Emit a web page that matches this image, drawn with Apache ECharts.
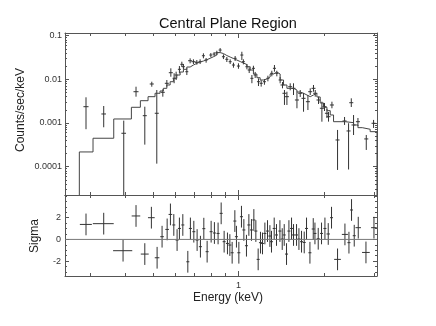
<!DOCTYPE html>
<html>
<head>
<meta charset="utf-8">
<script src="https://cdn.jsdelivr.net/npm/echarts@6/dist/echarts.min.js"></script>
<style>
html, body { margin: 0; padding: 0; background: #fff; }
#chart { width: 436px; height: 326px; }
</style>
</head>
<body>
<div id="chart"></div>
<script>
// spectrum points: energy (keV), half bin width (keV), rate (counts/sec/keV), errors down / up
var energy = [0.291, 0.3358, 0.3949, 0.4362, 0.4683, 0.4955, 0.516, 0.5418, 0.5597, 0.5781,
    0.5937, 0.6034, 0.6197, 0.6319, 0.6401, 0.658, 0.6758, 0.6941, 0.7134, 0.7327,
    0.7525, 0.7691, 0.7991, 0.8207, 0.8388, 0.8616, 0.8849, 0.9095, 0.9344, 0.9596,
    0.9728, 0.9992, 1.027, 1.04, 1.07, 1.09, 1.114, 1.128, 1.144, 1.175,
    1.201, 1.233, 1.268, 1.309, 1.337, 1.363, 1.4, 1.427, 1.45, 1.479,
    1.519, 1.56, 1.604, 1.647, 1.692, 1.753, 1.786, 1.834, 1.86, 1.91,
    1.963, 2.005, 2.045, 2.071, 2.129, 2.228, 2.358, 2.436, 2.49, 2.536,
    2.628, 2.811, 2.982];
var energyHw = [0.006, 0.0063, 0.0074, 0.0089, 0.0076, 0.0081, 0.0084, 0.0088, 0.0091, 0.0094,
    0.0072, 0.0074, 0.0076, 0.0077, 0.0078, 0.008, 0.011, 0.0113, 0.0116, 0.0089,
    0.0092, 0.0094, 0.0097, 0.01, 0.0102, 0.0105, 0.0108, 0.0111, 0.0114, 0.0117,
    0.0119, 0.0122, 0.0125, 0.0127, 0.013, 0.0133, 0.0136, 0.0138, 0.014, 0.0143,
    0.0147, 0.015, 0.0155, 0.016, 0.0163, 0.0166, 0.0171, 0.0233, 0.0236, 0.0241,
    0.0248, 0.0254, 0.0261, 0.0268, 0.0276, 0.0286, 0.0291, 0.0299, 0.0303, 0.0311,
    0.032, 0.0327, 0.0333, 0.0338, 0.0347, 0.0363, 0.0384, 0.0397, 0.0406, 0.0413,
    0.0428, 0.0458, 0.0486];
var rate = [2.36e-3, 1.607e-3, 5.81e-4, 5.2e-3, 1.469e-3, 7.81e-3, 1.667e-3, 5.04e-3, 8.1e-3, 1.416e-2,
    1.054e-2, 1.254e-2, 1.694e-2, 2.203e-2, 1.942e-2, 1.493e-2, 2.665e-2, 2.529e-2, 2.449e-2, 2.529e-2,
    3.467e-2, 2.764e-2, 3.597e-2, 3.793e-2, 4.064e-2, 4.68e-2, 3.289e-2, 2.871e-2, 2.529e-2, 2.124e-2,
    3.027e-2, 2.014e-2, 3.597e-2, 2.529e-2, 1.942e-2, 1.632e-2, 1.054e-2, 1.786e-2, 1.254e-2, 8.81e-3,
    8.1e-3, 8.81e-3, 1.054e-2, 1.371e-2, 1.786e-2, 1.371e-2, 9.64e-3, 7.41e-3, 4.79e-3, 4.0e-3,
    6.77e-3, 6.22e-3, 3.36e-3, 4.79e-3, 3.67e-3, 3.07e-3, 5.2e-3, 6.22e-3, 4.79e-3, 3.36e-3,
    2.17e-3, 2.36e-3, 1.667e-3, 1.393e-3, 2.58e-3, 4.08e-4, 1.111e-3, 6.56e-4, 2.91e-3, 9.0e-4,
    1.07e-3, 4.31e-4, 9.84e-4];
var rateErrUp = [1.51e-3, 8.4e-4, 5.5e-4, 1.57e-3, 8.9e-4, 1.0e-3, 4.02e-3, 8.6e-4, 1.54e-3, 3.7e-3,
    3.2e-3, 2.4e-3, 3.2e-3, 3.3e-3, 3.0e-3, 2.9e-3, 3.6e-3, 3.4e-3, 3.2e-3, 3.4e-3,
    4.7e-3, 3.1e-3, 4.0e-3, 4.2e-3, 4.5e-3, 5.2e-3, 4.4e-3, 3.7e-3, 3.4e-3, 2.8e-3,
    3.9e-3, 3.1e-3, 6.8e-3, 3.4e-3, 3.0e-3, 2.5e-3, 2.0e-3, 2.6e-3, 2.2e-3, 1.7e-3,
    1.4e-3, 1.35e-3, 1.55e-3, 2.0e-3, 3.4e-3, 2.0e-3, 1.65e-3, 1.26e-3, 9.0e-4, 1.2e-3,
    1.33e-3, 1.88e-3, 1.84e-3, 9.0e-4, 1.19e-3, 1.3e-3, 1.02e-3, 1.19e-3, 9.0e-4, 6.4e-4,
    9.0e-4, 5.1e-4, 4.2e-4, 3.9e-4, 4.9e-4, 2.84e-4, 2.6e-4, 3.3e-4, 7.6e-4, 6.2e-4,
    2.3e-4, 1.0e-4, 1.9e-4];
var rateErrDn = [1.64e-3, 8.1e-4, 5.7e-4, 1.2e-3, 1.15e-3, 1.04e-3, 1.55e-3, 1.04e-3, 1.33e-3, 2.7e-3,
    2.4e-3, 2.9e-3, 3.2e-3, 2.9e-3, 2.5e-3, 2.4e-3, 3.4e-3, 2.9e-3, 2.9e-3, 2.9e-3,
    4.4e-3, 3.6e-3, 4.1e-3, 4.3e-3, 4.7e-3, 5.3e-3, 3.8e-3, 3.8e-3, 2.9e-3, 2.8e-3,
    4.0e-3, 2.7e-3, 8.3e-3, 3.3e-3, 2.5e-3, 2.4e-3, 2.4e-3, 2.6e-3, 1.8e-3, 1.8e-3,
    1.3e-3, 1.3e-3, 1.54e-3, 2.0e-3, 2.9e-3, 2.0e-3, 1.54e-3, 1.19e-3, 2.2e-3, 1.42e-3,
    1.17e-3, 1.85e-3, 1.19e-3, 8.5e-4, 1.86e-3, 1.09e-3, 8.3e-4, 1.02e-3, 7.9e-4, 6.4e-4,
    1.1e-3, 4.8e-4, 3.7e-4, 3.2e-4, 4.1e-4, 3.24e-4, 2.1e-4, 5.7e-4, 5.9e-4, 3.7e-4,
    2.2e-4, 1.9e-4, 2.15e-4];

// folded model: value held from each bin low edge, last edge closes the final bin
var modelEdge = [0.2757, 0.308, 0.3642, 0.4201, 0.4518, 0.4808, 0.5088, 0.5298, 0.5441, 0.5597,
    0.5748, 0.5904, 0.6067, 0.6232, 0.6401, 0.658, 0.6758, 0.6941, 0.7134, 0.7327,
    0.7525, 0.7735, 0.7946, 0.8161, 0.8388, 0.8616, 0.8849, 0.9095, 0.9344, 0.9596,
    0.9863, 1.013, 1.04, 1.07, 1.099, 1.128, 1.16, 1.191, 1.223, 1.257,
    1.291, 1.327, 1.363, 1.4, 1.439, 1.479, 1.519, 1.56, 1.604, 1.647,
    1.692, 1.739, 1.786, 1.834, 1.885, 1.936, 1.989, 2.045, 2.1, 2.157,
    2.371, 2.536, 2.628, 2.721, 2.901, 3.066];
var modelRate = [2.17e-4, 4.47e-4, 1.235e-3, 2.287e-3, 3.237e-3, 4.0e-3, 4.79e-3, 5.4e-3, 6.22e-3, 7.41e-3,
    8.81e-3, 1.054e-2, 1.254e-2, 1.469e-2, 1.694e-2, 1.912e-2, 2.124e-2, 2.323e-2, 2.489e-2, 2.623e-2,
    2.81e-2, 3.027e-2, 3.289e-2, 3.597e-2, 4.09e-2, 3.893e-2, 3.505e-2, 3.238e-2, 2.992e-2, 2.764e-2,
    2.554e-2, 2.36e-2, 2.182e-2, 1.942e-2, 1.632e-2, 1.322e-2, 1.088e-2, 9.64e-3, 1.016e-2, 1.129e-2,
    1.322e-2, 1.469e-2, 1.322e-2, 9.64e-3, 7.41e-3, 6.22e-3, 6.22e-3, 5.69e-3, 5.12e-3, 4.79e-3,
    4.37e-3, 4.0e-3, 4.37e-3, 4.79e-3, 3.94e-3, 2.87e-3, 2.287e-3, 1.912e-3, 1.524e-3, 1.07e-3,
    1.016e-3, 9.0e-4, 7.81e-4, 7.18e-4, 6.32e-4];

// residuals (sigma), each with a 1 sigma bar
var resEnergy = [0.291, 0.3358, 0.3927, 0.4362, 0.4683, 0.4939, 0.5173, 0.5385, 0.5611, 0.5762,
    0.5922, 0.6081, 0.6197, 0.637, 0.6633, 0.6773, 0.6963, 0.7151, 0.7345, 0.755,
    0.7755, 0.801, 0.8226, 0.8474, 0.8687, 0.8899, 0.9141, 0.932, 0.9495, 0.9705,
    0.9831, 1.0024, 1.0238, 1.0438, 1.0661, 1.087, 1.1101, 1.1318, 1.1503, 1.172,
    1.1941, 1.2137, 1.2375, 1.264, 1.2887, 1.3055, 1.3344, 1.3595, 1.3976, 1.4239,
    1.4471, 1.4743, 1.5031, 1.5353, 1.5603, 1.5988, 1.6301, 1.6646, 1.7014, 1.7334,
    1.7818, 1.8301, 1.8555, 1.9055, 1.9571, 2.0118, 2.0663, 2.122, 2.2282, 2.3652,
    2.4434, 2.4952, 2.5504, 2.6345, 2.804, 2.9916];
var resHw = [0.0141, 0.0283, 0.0304, 0.0151, 0.015, 0.0134, 0.0097, 0.0079, 0.0082, 0.0085,
    0.0072, 0.0074, 0.0076, 0.0078, 0.0081, 0.0083, 0.0085, 0.0087, 0.009, 0.0092,
    0.0095, 0.0098, 0.01, 0.0103, 0.0106, 0.0109, 0.0112, 0.0114, 0.0116, 0.0118,
    0.012, 0.0122, 0.0125, 0.0127, 0.013, 0.0133, 0.0135, 0.0138, 0.014, 0.0143,
    0.0146, 0.0148, 0.0151, 0.0154, 0.0157, 0.0159, 0.0163, 0.0166, 0.017, 0.0174,
    0.0176, 0.018, 0.0183, 0.0187, 0.019, 0.0195, 0.0199, 0.0203, 0.0207, 0.0211,
    0.0217, 0.0223, 0.0226, 0.0232, 0.0239, 0.0245, 0.0285, 0.0259, 0.0604, 0.0582,
    0.03, 0.03, 0.031, 0.0582, 0.0875, 0.0685];
var resSigma = [1.38, 1.45, -1.04, 2.16, -1.35, 2.0, -1.69, 0.25, 0.92, 2.3,
    1.33, -0.06, 1.01, 1.33, -2.06, 1.01, 0.71, -0.06, -0.67, 0.99,
    -1.13, 0.71, 0.59, 0.55, 2.4, -0.21, -0.37, -0.52, -1.23, 1.69,
    0.25, -1.23, 2.09, 0.87, -0.58, 1.33, 0.87, 1.79, 0.77, -1.84,
    -0.3, -0.37, 0.55, 0.77, 0.31, -0.21, 1.01, 0.41, 0.77, 0.03,
    0.41, -1.35, 0.77, 1.01, 0.41, 0.41, 0.03, -0.21, -0.28, 1.01,
    -1.23, 0.96, 0.55, 0.06, 0.55, 1.01, 0.5, 2.0, -1.84, 0.46,
    -0.3, 2.71, 0.34, 1.08, -1.2, 1.08];
var resErr = 1;

// axes
var energyRange = [0.2455, 3.066];
var rateRange = [2.24e-5, 0.115];
var sigmaRange = [-3.37, 4.09];
var energyMajor = [1];
var energyMinor = [0.3, 0.4, 0.5, 0.6, 0.7, 0.8, 0.9, 2, 3];
var rateDecades = [0.0001, 0.001, 0.01, 0.1];
var rateLabels = ['0.0001', '0.001', '0.01', '0.1'];
var rateSteps = [2, 3, 4, 5, 6, 7, 8, 9];
var sigmaMajor = [-2, 0, 2];
var sigmaMinor = [-3, -2.5, -1.5, -1, -0.5, 0.5, 1, 1.5, 2.5, 3, 3.5, 4];

var lg = Math.log10;
var FONT = 'Liberation Sans, Arial, Helvetica, sans-serif';
var frameColor = '#555';
var xLim = [lg(energyRange[0]), lg(energyRange[1])];
var yLim = [lg(rateRange[0]), lg(rateRange[1])];

var rateMinor = [];
[1e-5, 1e-4, 1e-3, 1e-2, 1e-1].forEach(function (d) {
    rateSteps.forEach(function (k) {
        var v = lg(k * d);
        if (v > yLim[0] && v < yLim[1]) rateMinor.push(v);
    });
});

function clampLog(v) {
    return v > rateRange[0] ? lg(v) : yLim[0];
}

var pointRows = energy.map(function (e, i) {
    return [lg(e), lg(rate[i]), lg(e - energyHw[i]), lg(e + energyHw[i]),
        clampLog(rate[i] - rateErrDn[i]), lg(rate[i] + rateErrUp[i])];
});
var resRows = resEnergy.map(function (e, i) {
    return [lg(e), resSigma[i], lg(e - resHw[i]), lg(e + resHw[i]),
        resSigma[i] - resErr, resSigma[i] + resErr];
});

var modelLine = [[lg(modelEdge[0]), yLim[0]]];
modelRate.forEach(function (r, i) {
    modelLine.push([lg(modelEdge[i]), lg(r)]);
});
var lastEdge = lg(modelEdge[modelEdge.length - 1]);
modelLine.push([lastEdge, lg(modelRate[modelRate.length - 1])]);
modelLine.push([lastEdge, yLim[0]]);

function makeAxis(gridIndex, position, lim, ticks, len, withLine) {
    return {
        type: 'value', gridIndex: gridIndex, position: position,
        min: lim[0], max: lim[1],
        splitLine: { show: false },
        axisLine: { show: withLine, onZero: false, lineStyle: { color: frameColor, width: 1 } },
        axisTick: { show: true, inside: true, length: len, customValues: ticks,
            lineStyle: { color: frameColor, width: 1 } },
        axisLabel: { show: false }
    };
}

var eMaj = energyMajor.map(lg), eMin = energyMinor.map(lg);
var rMaj = rateDecades.map(lg);

var xAxes = [
    makeAxis(0, 'bottom', xLim, eMaj, 5, true),
    makeAxis(0, 'bottom', xLim, eMin, 3, false),
    makeAxis(0, 'top', xLim, eMaj, 5, true),
    makeAxis(0, 'top', xLim, eMin, 3, false),
    makeAxis(1, 'bottom', xLim, eMaj, 5, true),
    makeAxis(1, 'bottom', xLim, eMin, 3, false),
    makeAxis(1, 'top', xLim, eMaj, 5, true),
    makeAxis(1, 'top', xLim, eMin, 3, false)
];
xAxes[4].axisLabel = {
    show: true, customValues: eMaj, margin: 5, fontSize: 9, color: '#333', fontFamily: FONT,
    formatter: function (v) { return String(Math.round(Math.pow(10, v) * 100) / 100); }
};

var yAxes = [
    makeAxis(0, 'left', yLim, rMaj, 4, true),
    makeAxis(0, 'left', yLim, rateMinor, 2, false),
    makeAxis(0, 'right', yLim, rMaj, 4, true),
    makeAxis(0, 'right', yLim, rateMinor, 2, false),
    makeAxis(1, 'left', sigmaRange, sigmaMajor, 4, true),
    makeAxis(1, 'left', sigmaRange, sigmaMinor, 2, false),
    makeAxis(1, 'right', sigmaRange, sigmaMajor, 4, true),
    makeAxis(1, 'right', sigmaRange, sigmaMinor, 2, false)
];
yAxes[0].axisLabel = {
    show: true, customValues: rMaj, margin: 3, fontSize: 9, color: '#333', fontFamily: FONT,
    formatter: function (v) {
        for (var i = 0; i < rMaj.length; i++) {
            if (Math.abs(rMaj[i] - v) < 1e-6) return rateLabels[i];
        }
        return '';
    }
};
yAxes[4].axisLabel = {
    show: true, customValues: sigmaMajor, margin: 4, fontSize: 9, color: '#333', fontFamily: FONT,
    formatter: function (v) { return String(v); }
};

function crossItem(params, api) {
    var c = api.coord([api.value(0), api.value(1)]);
    var l = api.coord([api.value(2), api.value(1)]);
    var r = api.coord([api.value(3), api.value(1)]);
    var b = api.coord([api.value(0), api.value(4)]);
    var t = api.coord([api.value(0), api.value(5)]);
    var style = { stroke: '#333', lineWidth: 1 };
    return {
        type: 'group',
        children: [
            { type: 'line', shape: { x1: l[0], y1: c[1], x2: r[0], y2: c[1] }, style: style },
            { type: 'line', shape: { x1: c[0], y1: t[1], x2: c[0], y2: b[1] }, style: style }
        ]
    };
}

var chart = echarts.init(document.getElementById('chart'), null, { renderer: 'canvas' });
chart.setOption({
    animation: false,
    backgroundColor: '#fff',
    grid: [
        { left: 65, top: 33, width: 312, height: 162 },
        { left: 65, top: 195, width: 312, height: 81 }
    ],
    xAxis: xAxes,
    yAxis: yAxes,
    graphic: [
        { type: 'text', x: 228, y: 24, style: { text: 'Central Plane Region', font: '14.5px ' + FONT,
            fill: '#111', textAlign: 'center', textVerticalAlign: 'middle' } },
        { type: 'text', x: 21, y: 110, rotation: Math.PI / 2, style: { text: 'Counts/sec/keV',
            font: '12px ' + FONT, fill: '#222', textAlign: 'center', textVerticalAlign: 'middle' } },
        { type: 'text', x: 35, y: 236, rotation: Math.PI / 2, style: { text: 'Sigma',
            font: '12px ' + FONT, fill: '#222', textAlign: 'center', textVerticalAlign: 'middle' } },
        { type: 'text', x: 228, y: 298, style: { text: 'Energy (keV)', font: '12px ' + FONT,
            fill: '#222', textAlign: 'center', textVerticalAlign: 'middle' } }
    ],
    series: [
        {
            type: 'line', xAxisIndex: 0, yAxisIndex: 0, data: modelLine, step: 'end',
            symbol: 'none', silent: true,
            lineStyle: { color: '#444', width: 1 }
        },
        {
            type: 'custom', xAxisIndex: 0, yAxisIndex: 0, data: pointRows,
            encode: { x: 0, y: 1 }, renderItem: crossItem, silent: true
        },
        {
            type: 'line', xAxisIndex: 4, yAxisIndex: 4, data: [[xLim[0], 0], [xLim[1], 0]],
            symbol: 'none', silent: true,
            lineStyle: { color: '#777', width: 1 }
        },
        {
            type: 'custom', xAxisIndex: 4, yAxisIndex: 4, data: resRows,
            encode: { x: 0, y: 1 }, renderItem: crossItem, silent: true
        }
    ]
});
</script>
</body>
</html>
